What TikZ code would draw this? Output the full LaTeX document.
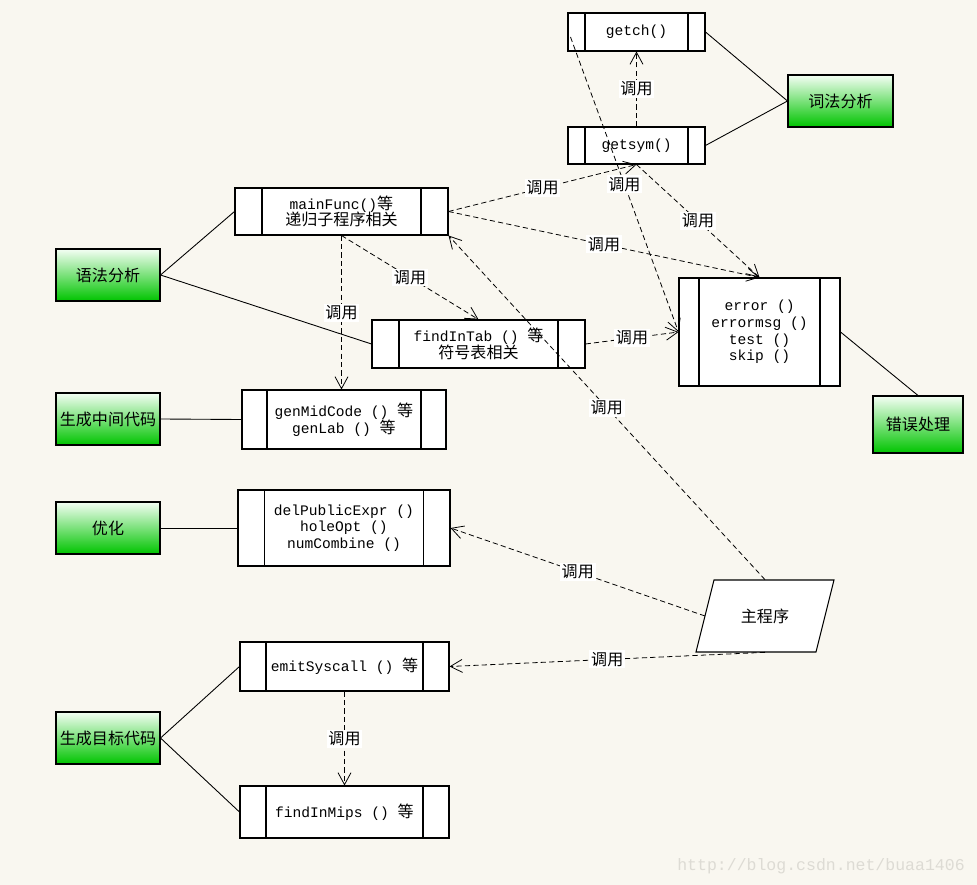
\documentclass[tikz,border=0pt]{standalone}
\usepackage{fontspec}
\setmonofont{Liberation Mono}
\newfontfamily\cjk{Noto Sans CJK SC}[Scale=1.1]
\usetikzlibrary{arrows.meta, shapes.geometric, calc}
\definecolor{paper}{RGB}{249,247,240}
\definecolor{gtop}{RGB}{244,254,244}
\definecolor{gbot}{RGB}{0,196,0}
\definecolor{wmgray}{RGB}{221,219,212}

\tikzset{
  procbox/.style={draw, fill=white, line width=0.6pt, rectangle, inner sep=1pt, align=center,
    font=\ttfamily\fontsize{8.3}{9.5}\selectfont,
    path picture={\draw[line width=0.6pt]
      ([xshift=#1]path picture bounding box.south west) -- ([xshift=#1]path picture bounding box.north west)
      ([xshift=-#1]path picture bounding box.south east) -- ([xshift=-#1]path picture bounding box.north east);}},
  stagebox/.style={draw, line width=0.6pt, top color=gtop, bottom color=gbot, inner sep=1pt,
    minimum width=2.08cm, minimum height=1.04cm, font=\cjk\fontsize{8.3}{9.5}\selectfont},
  calls/.style={-{Straight Barb[length=2.4mm,width=2.6mm]}, line width=0.45pt, dash pattern=on 3pt off 1.8pt},
  callnote/.style={fill=white, inner sep=1pt, font=\cjk\fontsize{8.3}{9.5}\selectfont},
  link/.style={line width=0.5pt},
}

\begin{document}
\begin{tikzpicture}[x=0.02cm, y=-0.02cm]
  \fill[paper] (0,0) rectangle (977,885);
  \useasboundingbox (0,0) rectangle (977,885);

  % procedure boxes
  \node[procbox=0.34cm, minimum width=2.74cm, minimum height=0.76cm] (getch) at (636.5,32) {getch()};
  \node[procbox=0.34cm, minimum width=2.74cm, minimum height=0.74cm] (getsym) at (636.5,145.5) {getsym()};
  \node[procbox=0.54cm, minimum width=4.26cm, minimum height=0.94cm] (mainfunc) at (341.5,211.5) {mainFunc(){\cjk 等}\\{\cjk 递归子程序相关}};
  \node[procbox=0.54cm, minimum width=4.26cm, minimum height=0.96cm] (findtab) at (478.5,344) {findInTab () {\cjk 等}\\{\cjk 符号表相关}};
  \node[procbox=0.4cm, minimum width=3.22cm, minimum height=2.16cm] (errbox) at (759.5,332) {error ()\\errormsg ()\\test ()\\skip ()};
  \node[procbox=0.5cm, minimum width=4.08cm, minimum height=1.18cm] (midcode) at (344,419.5) {genMidCode () {\cjk 等}\\genLab () {\cjk 等}};
  \node[procbox=0.53cm, minimum width=4.24cm, minimum height=1.52cm] (optbox) at (344,528) {delPublicExpr ()\\holeOpt ()\\numCombine ()};
  \node[procbox=0.52cm, minimum width=4.18cm, minimum height=0.98cm] (emitcall) at (344.5,666.5) {emitSyscall () {\cjk 等}};
  \node[procbox=0.52cm, minimum width=4.18cm, minimum height=1.04cm] (findmips) at (344.5,812) {findInMips () {\cjk 等}};

  % stages
  \node[stagebox, minimum width=2.1cm] (lexer) at (840.5,101) {词法分析};
  \node[stagebox] (parser) at (108,275) {语法分析};
  \node[stagebox] (midgen) at (108,419) {生成中间代码};
  \node[stagebox] (optimize) at (108,528) {优化};
  \node[stagebox] (codegen) at (108,738) {生成目标代码};
  \node[stagebox, minimum width=1.8cm, minimum height=1.14cm] (errhandle) at (918,424.5) {错误处理};

  % main program (parallelogram)
  \draw[fill=white, line width=0.6pt] (714,580) -- (834,580) -- (816,652) -- (696,652) -- cycle;
  \node[minimum width=2.76cm, minimum height=1.44cm, inner sep=1pt,
        font=\cjk\fontsize{8.3}{9.5}\selectfont] (main) at (765,616) {主程序};
  \coordinate (mainleft) at (705,616);

  % stage links
  \draw[link] (getch.east) -- (lexer.west);
  \draw[link] (getsym.east) -- (lexer.west);
  \draw[link] (parser.east) -- (mainfunc.west);
  \draw[link] (parser.east) -- (findtab.west);
  \draw[link] (midgen.east) -- (midcode.west);
  \draw[link] (optimize.east) -- (optbox.west);
  \draw[link] (codegen.east) -- (emitcall.west);
  \draw[link] (codegen.east) -- (findmips.west);
  \draw[link] (errbox.east) -- (errhandle.north);

  % calls
  \draw[calls] (getsym.north) -- (getch.south) node[callnote, midway] {调用};
  \draw[calls] (mainfunc.east) -- (getsym.south) node[callnote, midway] {调用};
  \draw[calls] (mainfunc.east) -- (errbox.north) node[callnote, midway] {调用};
  \draw[calls] (getsym.south) -- (errbox.north) node[callnote, midway] {调用};
  \draw[calls] ($(getch.west)+(3,5)$) -- (errbox.west) node[callnote, midway] {调用};
  \draw[calls] (findtab.east) -- (errbox.west) node[callnote, midway] {调用};
  \draw[calls] (mainfunc.south) -- (mainfunc.south |- midcode.north) node[callnote, midway] {调用};
  \draw[calls] (mainfunc.south) -- (findtab.north) node[callnote, midway] {调用};
  \draw[calls] (main.north) -- (mainfunc.south east) node[callnote, midway] {调用};
  \draw[calls] (mainleft) -- (optbox.east) node[callnote, midway] {调用};
  \draw[calls] (main.south) -- (emitcall.east) node[callnote, midway] {调用};
  \draw[calls] (emitcall.south) -- (findmips.north) node[callnote, midway] {调用};

  \node[font=\ttfamily\fontsize{9.4}{11}\selectfont, text=wmgray] (site) at (821,866) {http://blog.csdn.net/buaa1406};
\end{tikzpicture}
\end{document}
